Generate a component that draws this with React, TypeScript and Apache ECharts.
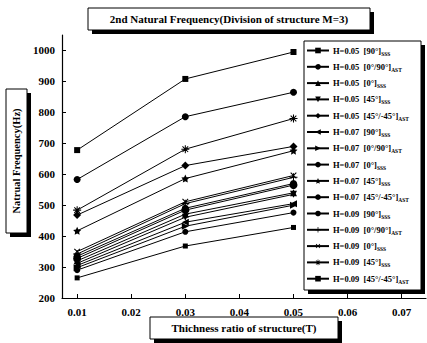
import React, { useEffect, useRef } from "react";
import * as echarts from "echarts";

const xValues = [0.01, 0.03, 0.05];
const xTicks = [0.01, 0.02, 0.03, 0.04, 0.05, 0.06, 0.07];
const yTicks = [200, 300, 400, 500, 600, 700, 800, 900, 1000];

const hLabels = [
  "H=0.05", "H=0.05", "H=0.05", "H=0.05", "H=0.05",
  "H=0.07", "H=0.07", "H=0.07", "H=0.07", "H=0.07",
  "H=0.09", "H=0.09", "H=0.09", "H=0.09", "H=0.09",
];
const layups = [
  "[90°]", "[0°/90°]", "[0°]", "[45°]", "[45°/-45°]",
  "[90°]", "[0°/90°]", "[0°]", "[45°]", "[45°/-45°]",
  "[90°]", "[0°/90°]", "[0°]", "[45°]", "[45°/-45°]",
];
const subs = [
  "SSS", "AST", "SSS", "SSS", "AST",
  "SSS", "AST", "SSS", "SSS", "AST",
  "SSS", "AST", "SSS", "SSS", "AST",
];

// natural frequency (Hz) at T = 0.01, 0.03, 0.05
const s01 = [678, 908, 995];
const s02 = [583, 786, 865];
const s03 = [320, 471, 540];
const s04 = [312, 461, 535];
const s05 = [468, 628, 690];
const s06 = [305, 445, 505];
const s07 = [298, 432, 500];
const s08 = [335, 490, 570];
const s09 = [417, 586, 676];
const s10 = [328, 484, 565];
const s11 = [290, 414, 476];
const s12 = [342, 505, 590];
const s13 = [350, 511, 596];
const s14 = [484, 681, 780];
const s15 = [265, 368, 428];
const seriesValues = [s01, s02, s03, s04, s05, s06, s07, s08, s09, s10, s11, s12, s13, s14, s15];

const STAR = "path://M0,-10L2.94,-4.05L9.51,-3.09L4.76,1.55L5.88,8.09L0,5L-5.88,8.09L-4.76,1.55L-9.51,-3.09L-2.94,-4.05Z";
const PLUS = "path://M-1.3,-10H1.3V-1.3H10V1.3H1.3V10H-1.3V1.3H-10V-1.3H-1.3Z";
const ASTER = "path://M-1.3,-10H1.3V-1.3H10V1.3H1.3V10H-1.3V1.3H-10V-1.3H-1.3Z M-8,-6.2L-6.2,-8L8,6.2L6.2,8Z M6.2,-8L8,-6.2L-6.2,8L-8,6.2Z";

const symbols = [
  "rect", "circle", "triangle", "triangle", "diamond",
  "triangle", "triangle", "circle", STAR, "circle",
  "circle", PLUS, PLUS, ASTER, "rect",
];
const rotations = [0, 0, 0, 180, 0, 90, -90, 0, 0, 0, 0, 0, 45, 0, 0];
const sizes = [6, 7, 7, 7, 8, 7, 7, 7, 8, 8, 6, 8, 8, 8, 5];

const FONT = "'Liberation Serif', 'Times New Roman', serif";

export default function App() {
  const ref = useRef<HTMLDivElement>(null);
  useEffect(() => {
    if (!ref.current) return;
    const chart = echarts.init(ref.current, null, { renderer: "svg" });
    const names = hLabels.map((h, i) => `${h} ${layups[i]}${subs[i]}`);
    const series = seriesValues.map((vals, i) => ({
      name: names[i],
      type: "line",
      data: vals.map((v, j) => [xValues[j], v]),
      symbol: symbols[i],
      symbolSize: sizes[i],
      symbolRotate: rotations[i],
      lineStyle: { color: "#000", width: 1 },
      itemStyle: { color: "#000" },
      z: 3,
    }));

    const shadowBox = (x: number, y: number, w: number, h: number) => [
      { type: "rect", shape: { x: x + 4, y: y + 4, width: w, height: h }, style: { fill: "#000" }, z: 1 },
      { type: "rect", shape: { x, y, width: w, height: h }, style: { fill: "#fff", stroke: "#000", lineWidth: 1 }, z: 1 },
    ];

    chart.setOption({
      animation: false,
      backgroundColor: "#fff",
      textStyle: { fontFamily: FONT, fontWeight: "bold", color: "#000" },
      grid: { left: 62, right: 1, top: 35, bottom: 45 },
      xAxis: {
        type: "value",
        min: 0.0072,
        max: 0.0745,
        axisLine: { lineStyle: { color: "#000", width: 1.2 } },
        axisTick: { inside: true, length: 4, customValues: xTicks, lineStyle: { color: "#000" } },
        axisLabel: {
          customValues: xTicks,
          formatter: (v: number) => v.toFixed(2),
          color: "#000",
          fontFamily: FONT,
          fontWeight: "bold",
          fontSize: 11,
          margin: 8,
        },
        splitLine: { show: false },
      },
      yAxis: {
        type: "value",
        min: 200,
        max: 1050,
        axisLine: { show: true, lineStyle: { color: "#000", width: 1.2 } },
        axisTick: { show: true, inside: true, length: 4, customValues: yTicks, lineStyle: { color: "#000" } },
        axisLabel: {
          customValues: yTicks,
          formatter: (v: number) => String(v),
          color: "#000",
          fontFamily: FONT,
          fontWeight: "bold",
          fontSize: 11,
          margin: 7,
        },
        splitLine: { show: false },
      },
      legend: {
        orient: "vertical",
        left: 306,
        top: 46,
        padding: 0,
        itemWidth: 22,
        itemHeight: 7,
        itemGap: 5.8,
        selectedMode: false,
        z: 10,
        formatter: (name: string) => {
          const i = names.indexOf(name);
          return `{b|${hLabels[i]}}  {b|${layups[i]}}{s|${subs[i]}}`;
        },
        textStyle: {
          color: "#000",
          fontFamily: FONT,
          fontWeight: "bold",
          fontSize: 8.5,
          padding: [0, 0, 0, -1],
          rich: {
            b: { fontFamily: FONT, fontWeight: "bold", fontSize: 8.5, color: "#000", lineHeight: 12, verticalAlign: "middle" },
            s: { fontFamily: FONT, fontWeight: "bold", fontSize: 5.5, color: "#000", lineHeight: 12, verticalAlign: "bottom" },
          },
        },
        data: names,
      },
      graphic: [
        ...shadowBox(88, 8, 282, 22),
        {
          type: "text",
          x: 229,
          y: 19,
          z: 5,
          style: {
            text: "2nd Natural Frequency(Division of structure M=3)",
            fill: "#000",
            font: `bold 11px ${FONT}`,
            align: "center",
            verticalAlign: "middle",
          },
        },
        ...shadowBox(6, 89, 21, 144),
        {
          type: "text",
          x: 16.5,
          y: 161,
          rotation: Math.PI / 2,
          z: 5,
          style: {
            text: "Natrual Frequency(Hz)",
            fill: "#000",
            font: `bold 10.5px ${FONT}`,
            align: "center",
            verticalAlign: "middle",
          },
        },
        ...shadowBox(150, 317, 188, 22),
        {
          type: "text",
          x: 244,
          y: 328,
          z: 5,
          style: {
            text: "Thichness ratio of structure(T)",
            fill: "#000",
            font: `bold 11px ${FONT}`,
            align: "center",
            verticalAlign: "middle",
          },
        },
        ...shadowBox(304, 41, 117, 249),
      ],
      series,
    });
    return () => chart.dispose();
  }, []);
  return <div ref={ref} style={{ width: 427, height: 343, position: "fixed", left: 0, top: 0 }} />;
}
